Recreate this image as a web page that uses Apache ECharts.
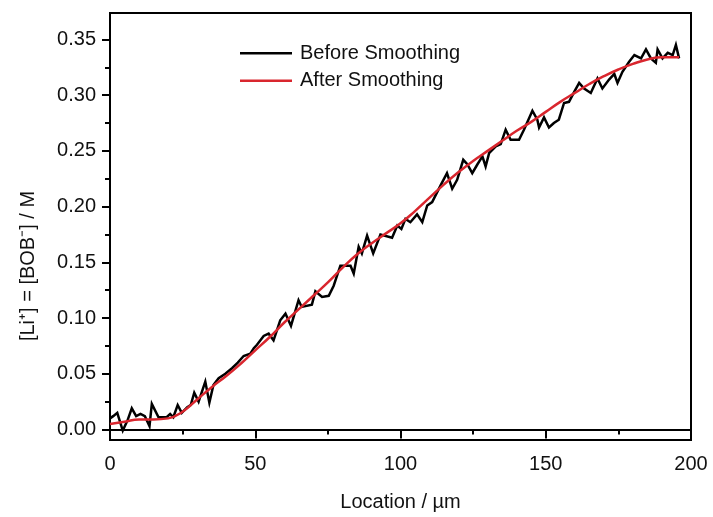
<!DOCTYPE html>
<html>
<head>
<meta charset="utf-8">
<script src="https://cdn.jsdelivr.net/npm/echarts@6/dist/echarts.min.js"></script>
<style>
html,body{margin:0;padding:0;background:#fff;}
#c{width:713px;height:517px;}
</style>
</head>
<body>
<div id="c"></div>
<script>
// Raw (before smoothing) profile: location (µm) and concentration (M)
const rawX = [0,1.1,2.5,4.4,6,7.5,9,10.5,12,13.6,14.4,16.7,19.5,20.7,21.8,23.3,24.7,26.6,27.8,29,30.5,32.8,34.2,35.6,37.4,39.7,42,44,46,48.3,49.5,50.6,52.9,54.6,56.3,58.6,60.4,62.3,64.9,66,69.5,70.7,73,75.3,77,79.3,82.8,83.9,85.6,86.7,88.5,90.6,93.1,97.1,98.9,100.3,101.7,103.4,105.7,107.5,109.2,110.9,113.8,116,117.8,119.5,121.6,123,124.7,126.5,128.2,129.3,130.5,132.8,134.5,136.2,137.9,140.8,142.5,145.4,147.1,147.7,149.4,151.1,152.8,154.5,156.3,158,159.8,161.5,163.2,165.5,167.8,169.5,171.8,173.6,174.7,176.4,178.7,180.5,182.8,184.5,186.2,187.9,188.5,190.2,192,193.7,194.8,195.9];
const rawY = [0.010,0.012,0.015,-0.001,0.008,0.019,0.012,0.014,0.012,0.003,0.023,0.011,0.011,0.014,0.011,0.022,0.015,0.020,0.022,0.033,0.025,0.043,0.024,0.040,0.046,0.050,0.055,0.060,0.066,0.068,0.073,0.076,0.084,0.086,0.080,0.098,0.104,0.093,0.116,0.110,0.112,0.124,0.119,0.120,0.129,0.147,0.147,0.140,0.164,0.158,0.174,0.158,0.175,0.172,0.183,0.180,0.189,0.186,0.193,0.186,0.201,0.204,0.219,0.230,0.216,0.224,0.242,0.238,0.230,0.238,0.245,0.236,0.248,0.254,0.256,0.269,0.260,0.260,0.269,0.286,0.278,0.271,0.280,0.271,0.275,0.278,0.293,0.294,0.303,0.311,0.306,0.302,0.315,0.306,0.314,0.319,0.311,0.321,0.330,0.336,0.333,0.341,0.333,0.329,0.341,0.333,0.338,0.336,0.345,0.333];

// Smoothed profile
const smoothX = [0,5,10,15,20,25,30,35,40,45,50,55,60,65,70,75,80,85,90,95,100,105,110,115,120,125,130,135,140,145,150,155,160,165,170,175,180,185,190,195.9];
const smoothY = [0.005,0.007,0.009,0.009,0.010,0.016,0.027,0.038,0.048,0.059,0.071,0.083,0.096,0.108,0.120,0.132,0.145,0.157,0.167,0.176,0.185,0.196,0.208,0.220,0.231,0.241,0.250,0.259,0.268,0.276,0.285,0.294,0.302,0.310,0.317,0.323,0.328,0.332,0.334,0.334];

const seriesNames = ['Before Smoothing', 'After Smoothing'];
const yMajorTicks = [0, 0.05, 0.10, 0.15, 0.20, 0.25, 0.30, 0.35];
const yMinorTicks = [0.025, 0.075, 0.125, 0.175, 0.225, 0.275, 0.325];
const xTitle = 'Location / µm';
const yTitle = '[Li⁺] = [BOB⁻] / M';

const FONT = 'Liberation Sans, Arial, sans-serif';
const yMin = -0.0094, yMax = 0.3737;

const chart = echarts.init(document.getElementById('c'), null, {renderer: 'canvas'});
chart.setOption({
  animation: false,
  backgroundColor: '#fff',
  textStyle: {fontFamily: FONT},
  grid: {left: 110, right: 22, top: 13, bottom: 75, show: true, borderColor: '#000', borderWidth: 2, backgroundColor: 'transparent'},
  legend: {
    data: seriesNames,
    orient: 'vertical',
    left: 240, top: 43,
    icon: 'rect',
    itemWidth: 52, itemHeight: 2.5, itemGap: 7,
    padding: 0,
    textStyle: {fontSize: 20, color: '#111', fontFamily: FONT, padding: [0, 0, 0, 3], lineHeight: 20.5}
  },
  xAxis: {
    type: 'value', min: 0, max: 200, interval: 50,
    name: xTitle, nameLocation: 'middle', nameGap: 52,
    nameTextStyle: {fontSize: 20, color: '#111', fontFamily: FONT},
    axisLine: {show: true, lineStyle: {color: '#000', width: 2}},
    axisTick: {show: true, inside: false, length: 9, lineStyle: {color: '#000', width: 2}},
    minorTick: {show: true, splitNumber: 2, length: 5, lineStyle: {color: '#000', width: 2}},
    axisLabel: {fontSize: 20, color: '#111', margin: 14, fontFamily: FONT},
    splitLine: {show: false}, minorSplitLine: {show: false}
  },
  yAxis: [{
    type: 'value', min: yMin, max: yMax, position: 'left',
    name: yTitle, nameLocation: 'middle', nameGap: 72,
    nameTextStyle: {fontSize: 20, color: '#111', fontFamily: FONT, padding: [0, 79, 0, 0]},
    axisLine: {show: true, lineStyle: {color: '#000', width: 2}},
    axisTick: {show: true, inside: false, length: 8, customValues: yMajorTicks, lineStyle: {color: '#000', width: 2}},
    axisLabel: {fontSize: 20, color: '#111', margin: 14, fontFamily: FONT, customValues: yMajorTicks,
      formatter: v => v.toFixed(2)},
    splitLine: {show: false}
  }, {
    type: 'value', min: yMin, max: yMax, position: 'left', offset: 0,
    axisLine: {show: false},
    axisTick: {show: true, inside: false, length: 5, customValues: yMinorTicks, lineStyle: {color: '#000', width: 2}},
    axisLabel: {show: false},
    splitLine: {show: false}
  }],
  series: [{
    name: seriesNames[0], type: 'line', yAxisIndex: 0,
    data: rawX.map((x, i) => [x, rawY[i]]),
    symbol: 'none',
    lineStyle: {color: '#000', width: 2.5, join: 'miter'},
    itemStyle: {color: '#000'}
  }, {
    name: seriesNames[1], type: 'line', yAxisIndex: 0,
    data: smoothX.map((x, i) => [x, smoothY[i]]),
    symbol: 'none', smooth: true,
    lineStyle: {color: '#d9262e', width: 2.5},
    itemStyle: {color: '#d9262e'}
  }]
});
</script>
</body>
</html>
